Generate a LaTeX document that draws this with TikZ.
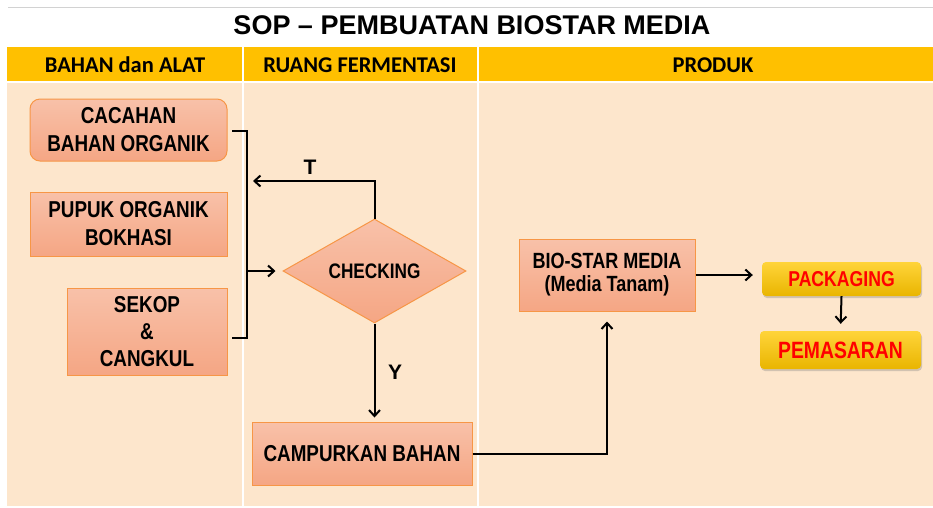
\documentclass[tikz,border=0pt]{standalone}
\usepackage{fontspec}
\setmainfont{Liberation Sans}
\newfontfamily\narrowfont{Liberation Sans}[FakeStretch=0.82]
\newfontfamily\hdrfont{Carlito}
\usetikzlibrary{shapes.geometric,arrows.meta,shadows}
\definecolor{hdryellow}{HTML}{FFC000}
\definecolor{bodypeach}{HTML}{FDE6CC}
\definecolor{boxtop}{HTML}{F8C1A9}
\definecolor{boxbot}{HTML}{F5A684}
\definecolor{boxline}{HTML}{F79646}
\definecolor{ytop}{HTML}{FFD43A}
\definecolor{ybot}{HTML}{E9B500}
\tikzset{box/.style={draw=boxline,line width=1pt,top color=boxtop,bottom color=boxbot,inner sep=0pt,align=center,font=\narrowfont\bfseries\fontsize{23}{28}\selectfont}}
\tikzset{ybox/.style={rounded corners=4pt,top color=ytop,bottom color=ybot,inner sep=0pt,text=red,drop shadow={opacity=0.35,shadow xshift=1pt,shadow yshift=-2pt},font=\narrowfont\bfseries}}
\tikzset{hdr/.style={anchor=base,inner sep=0pt,font=\hdrfont\bfseries\fontsize{22.5}{26}\selectfont}}
\tikzset{lbl/.style={inner sep=0pt,font=\bfseries\fontsize{21}{24}\selectfont}}
\tikzset{arr/.style={line width=2pt,-{Straight Barb[length=6pt,width=11pt]}}}
\tikzset{garis/.style={line width=2pt}}

\begin{document}
\begin{tikzpicture}[x=1pt,y=-1pt]
\useasboundingbox (0,0) rectangle (933,507);
% latar
\fill[white] (0,0) rectangle (933,507);
\draw[gray!35,line width=1pt] (8,7) -- (933,7);
\fill[hdryellow] (7,47) rectangle (933,81);
\fill[bodypeach] (7,83) rectangle (933,506);
\draw[white,line width=2pt] (243,47) -- (243,506) (478,47) -- (478,506);
% judul dan kolom
\node[inner sep=0pt,font=\bfseries\fontsize{27}{32}\selectfont] (judul) at (472,25) {SOP – PEMBUATAN BIOSTAR MEDIA};
\node[hdr] (hbahan) at (125,72) {BAHAN dan ALAT};
\node[hdr] (hruang) at (360,72) {RUANG FERMENTASI};
\node[hdr] (hproduk) at (713,72) {PRODUK};
% bahan
\node[box,rounded corners=10pt,minimum width=197,minimum height=62] (cacahan) at (128.5,130) {CACAHAN\\BAHAN ORGANIK};
\node[box,minimum width=197,minimum height=64] (pupuk) at (128.5,224) {PUPUK ORGANIK\\BOKHASI};
\node[box,minimum width=160,minimum height=87,font=\narrowfont\bfseries\fontsize{23}{27}\selectfont] (sekop) at (147,331.5) {SEKOP\\\&\\CANGKUL};
% fermentasi
\node[box,shape=diamond,aspect=1.76,minimum width=183,minimum height=104,font=\narrowfont\bfseries\fontsize{21}{22}\selectfont] (check) at (374.5,271) {CHECKING};
\node[box,minimum width=220,minimum height=63] (campur) at (362,453.5) {CAMPURKAN BAHAN};
% produk
\node[box,minimum width=176,minimum height=72,font=\narrowfont\bfseries\fontsize{22}{23}\selectfont] (bio) at (607,275) {BIO-STAR MEDIA\\(Media Tanam)};
\node[ybox,minimum width=159,minimum height=34,font=\narrowfont\bfseries\fontsize{21.5}{22}\selectfont] (pack) at (841.5,279) {PACKAGING};
\node[ybox,minimum width=161,minimum height=38,font=\narrowfont\bfseries\fontsize{23.6}{26}\selectfont] (pasar) at (840.5,350) {PEMASARAN};
% kurung
\coordinate (kt) at (232,131);
\coordinate (kb) at (232,338);
\coordinate (km) at (247,271);
\coordinate (tujuan) at (253,181);
\draw[garis] (kt) -- ++(15,0) |- (kb);
% panah
\draw[arr,shorten >=7pt] (km) -- (check.west);
\draw[arr] (check.north) |- (tujuan);
\node[lbl] (ltidak) at (310,167) {T};
\draw[arr,shorten >=4pt] (check.south) -- (check.south |- campur.north);
\node[lbl] (lya) at (395,372) {Y};
\draw[arr,shorten >=10pt] (campur.east) -| (bio.south);
\draw[arr,shorten >=9pt] (bio.east) -- (bio.east -| pack.west);
\draw[arr,shorten >=7pt] (pack.south) -- (pasar.north);
\end{tikzpicture}
\end{document}
